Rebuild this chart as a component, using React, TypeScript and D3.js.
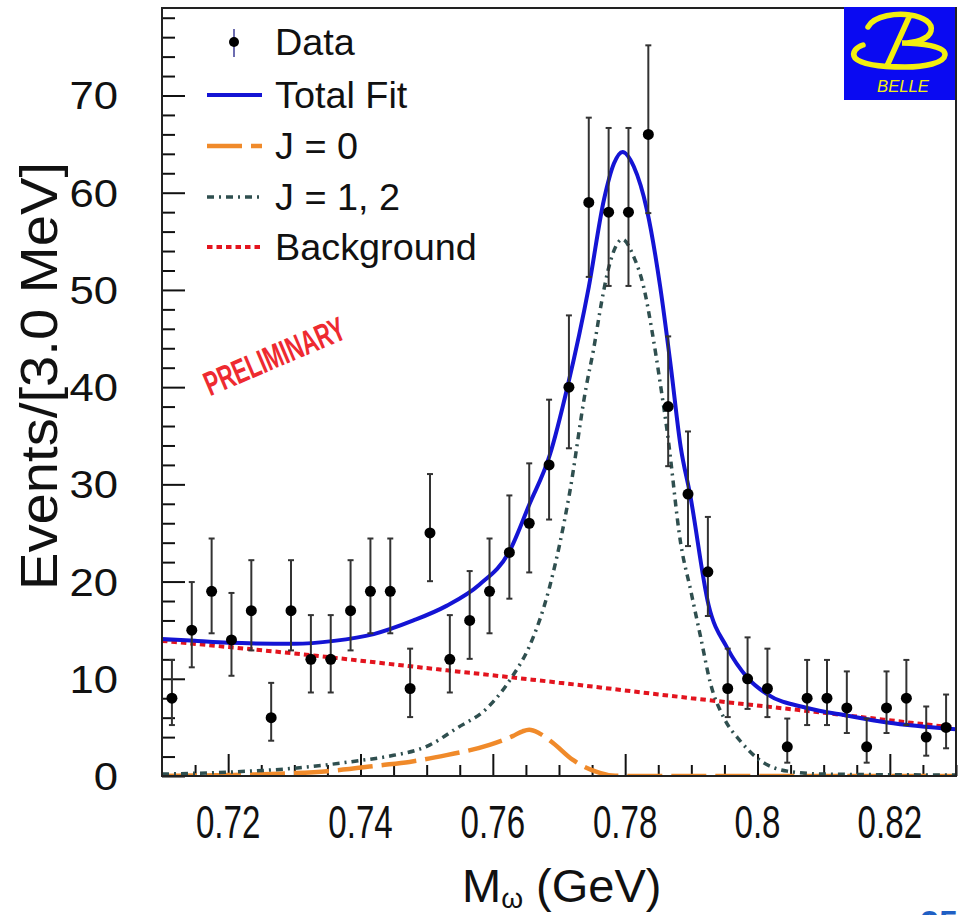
import * as d3 from "d3";
import { useEffect, useRef } from "react";

// omega candidate mass, bin centres of the 3 MeV bins (GeV)
const massBins = [
  0.7115, 0.7145, 0.7175, 0.7205, 0.7235, 0.7265, 0.7295, 0.7325, 0.7355, 0.7385,
  0.7415, 0.7445, 0.7475, 0.7505, 0.7535, 0.7565, 0.7595, 0.7625, 0.7655, 0.7685,
  0.7715, 0.7745, 0.7775, 0.7805, 0.7835, 0.7865, 0.7895, 0.7925, 0.7955, 0.7985,
  0.8015, 0.8045, 0.8075, 0.8105, 0.8135, 0.8165, 0.8195, 0.8225, 0.8255, 0.8285,
];
const counts = [
  8, 15, 19, 14, 17, 6, 17, 12, 12, 17, 19, 19, 9, 25, 12, 16, 19, 23, 26, 32,
  40, 59, 58, 58, 66, 38, 29, 21, 9, 10, 9, 3, 8, 8, 7, 3, 7, 8, 4, 5,
];
// poisson error bar ends
const errLow = [
  5.24, 11.18, 14.68, 10.31, 12.92, 3.63, 12.92, 8.59, 8.59, 12.92, 14.68, 14.68, 6.06, 20.04,
  8.59, 12.05, 14.68, 18.24, 20.94, 26.38, 33.71, 51.34, 50.41, 50.41, 57.9, 31.87, 23.65,
  16.46, 6.06, 6.9, 6.06, 1.37, 5.24, 5.24, 4.42, 1.37, 4.42, 5.24, 2.09, 2.85,
];
const errHigh = [
  11.94, 19.95, 24.43, 18.83, 22.2, 9.58, 22.2, 16.55, 16.55, 22.2, 24.43, 24.43, 13.1, 31.06,
  16.55, 21.08, 24.43, 28.86, 32.16, 38.71, 47.38, 67.72, 66.66, 66.66, 75.16, 45.22, 35.44,
  26.65, 13.1, 14.26, 13.1, 5.91, 11.94, 11.94, 10.76, 5.91, 10.76, 11.94, 7.15, 8.38,
];

// fit curves
const totalMass = [
  0.71, 0.715, 0.72, 0.73, 0.736, 0.742, 0.748, 0.753, 0.758, 0.7625, 0.7655, 0.7686, 0.7713,
  0.7745, 0.7768, 0.7783, 0.7796, 0.7813, 0.7833, 0.7853, 0.7869, 0.7884, 0.7898, 0.7926,
  0.7954, 0.7985, 0.8015, 0.8075, 0.8136, 0.8196, 0.83,
];
const totalFit = [
  14.1, 13.9, 13.7, 13.6, 13.9, 14.6, 16.0, 17.5, 19.7, 23.1, 27.9, 33.0, 40.1, 50.3, 59.3,
  63.0, 64.2, 62.7, 58.2, 50.3, 42.1, 33.8, 29.0, 17.6, 13.2, 10.1, 8.4, 7.0, 6.2, 5.5, 4.8,
];
const bkgMass = [0.71, 0.73, 0.75, 0.77, 0.79, 0.81, 0.83];
const bkgFit = [13.9, 12.6, 11.1, 9.6, 8.0, 6.5, 4.95];
const j0Mass = [
  0.71, 0.72, 0.73, 0.735, 0.743, 0.7474, 0.753, 0.7595, 0.763, 0.7645, 0.7655, 0.767, 0.7691,
  0.7721, 0.7756, 0.778, 0.78, 0.83,
];
const j0Fit = [0.0, 0.1, 0.3, 0.5, 1.1, 1.45, 2.15, 3.2, 4.1, 4.6, 4.75, 4.4, 3.4, 1.65, 0.45, 0.05, 0.0, 0.0];
const j12Mass = [
  0.71, 0.72, 0.73, 0.74, 0.744, 0.7505, 0.7545, 0.759, 0.763, 0.7655, 0.7686, 0.7716, 0.7741,
  0.7752, 0.7765, 0.7773, 0.7796, 0.7813, 0.7828, 0.7841, 0.7853, 0.7864, 0.7884, 0.7899,
  0.7914, 0.7929, 0.7949, 0.7974, 0.8005, 0.8045, 0.81, 0.83,
];
const j12Fit = [
  0.2, 0.4, 0.8, 1.6, 2.0, 3.2, 4.9, 6.9, 10.3, 13.3, 19.5, 29.1, 40.0, 43.8, 49.0, 51.7, 55.2,
  53.4, 50.3, 45.6, 40.4, 35.2, 23.9, 19.1, 14.3, 9.5, 6.0, 3.6, 1.55, 0.5, 0.2, 0.1,
];

const xTicks = [0.72, 0.74, 0.76, 0.78, 0.8, 0.82];
const yTicks = [0, 10, 20, 30, 40, 50, 60, 70];
const legendLabels = ["Data", "Total Fit", "J = 0", "J = 1, 2", "Background"];

const FONT = "'Liberation Sans', Arial, Helvetica, sans-serif";

const styles = {
  total: { color: "#1414d4", width: 4, dash: null as string | null },
  j0: { color: "#f08a2a", width: 4.5, dash: "35,9" },
  j12: { color: "#2f4f4f", width: 3.5, dash: "7,5,2,5" },
  bkg: { color: "#e3141e", width: 4, dash: "5.5,4" },
};

function App() {
  const ref = useRef<SVGSVGElement>(null);

  useEffect(() => {
    document.body.style.margin = "0";
    const svg = d3.select(ref.current);
    svg.selectAll("*").remove();

    const x = d3.scaleLinear().domain([0.71, 0.83]).range([162, 956]);
    const y = d3.scaleLinear().domain([0, 79]).range([776, 8]);

    svg.append("rect").attr("width", 964).attr("height", 915).attr("fill", "#fff");

    svg
      .append("defs")
      .append("clipPath")
      .attr("id", "frame-clip")
      .append("rect")
      .attr("x", 162)
      .attr("y", 8)
      .attr("width", 794)
      .attr("height", 768);

    // ticks (inside the frame)
    const minorX = d3.range(0.715, 0.8301, 0.005).filter((v) => !xTicks.some((t) => Math.abs(t - v) < 1e-6));
    const minorY = d3.range(2, 79, 2).filter((v) => v % 10 !== 0);

    const tickAxis = (axis: any, tr: string) => {
      const g = svg.append("g").attr("transform", tr).call(axis);
      g.select(".domain").remove();
      g.selectAll("line").attr("stroke", "#111").attr("stroke-width", 2);
    };
    tickAxis(d3.axisTop(x).tickValues(xTicks).tickSize(22).tickFormat(() => ""), "translate(0,776)");
    tickAxis(d3.axisTop(x).tickValues(minorX).tickSize(11).tickFormat(() => ""), "translate(0,776)");
    tickAxis(d3.axisRight(y).tickValues(yTicks).tickSize(23).tickFormat(() => ""), "translate(162,0)");
    tickAxis(d3.axisRight(y).tickValues(minorY).tickSize(13).tickFormat(() => ""), "translate(162,0)");

    // tick labels
    svg
      .append("g")
      .selectAll("text")
      .data(xTicks)
      .join("text")
      .attr("transform", (d) => `translate(${x(d)},838) scale(0.72,1)`)
      .attr("text-anchor", "middle")
      .attr("font-family", FONT)
      .attr("font-size", 46)
      .attr("fill", "#111")
      .text((d) => d3.format("~g")(d));

    svg
      .append("g")
      .selectAll("text")
      .data(yTicks)
      .join("text")
      .attr("transform", (d) => `translate(118,${y(d) + 14}) scale(1.12,1)`)
      .attr("text-anchor", "end")
      .attr("font-family", FONT)
      .attr("font-size", 39)
      .attr("fill", "#111")
      .text((d) => d);

    // axis titles
    svg
      .append("text")
      .attr("transform", "translate(57,376) rotate(-90)")
      .attr("text-anchor", "middle")
      .attr("font-family", FONT)
      .attr("font-size", 51)
      .attr("textLength", 428)
      .attr("lengthAdjust", "spacingAndGlyphs")
      .attr("fill", "#111")
      .text("Events/[3.0 MeV]");

    const xt = svg
      .append("text")
      .attr("x", 462)
      .attr("y", 902)
      .attr("font-family", FONT)
      .attr("font-size", 47)
      .attr("fill", "#111");
    xt.append("tspan").text("M");
    xt.append("tspan").attr("font-size", 28).attr("dy", 6).text("ω");
    xt.append("tspan").attr("dy", -6).text(" (GeV)");

    // fit components
    const plot = svg.append("g").attr("clip-path", "url(#frame-clip)");
    const curve = (xs: number[], ys: number[], s: { color: string; width: number; dash: string | null }) => {
      const line = d3
        .line<[number, number]>()
        .x((d) => x(d[0]))
        .y((d) => y(d[1]))
        .curve(d3.curveMonotoneX);
      plot
        .append("path")
        .datum(d3.zip(xs, ys) as [number, number][])
        .attr("fill", "none")
        .attr("stroke", s.color)
        .attr("stroke-width", s.width)
        .attr("stroke-dasharray", s.dash)
        .attr("d", line);
    };
    curve(bkgMass, bkgFit, styles.bkg);
    curve(j0Mass, j0Fit, styles.j0);
    curve(j12Mass, j12Fit, styles.j12);
    curve(totalMass, totalFit, styles.total);

    // data with error bars
    const pts = plot
      .append("g")
      .selectAll("g")
      .data(counts.map((c, i) => ({ m: massBins[i], c, lo: errLow[i], hi: errHigh[i] })))
      .join("g");
    pts
      .append("line")
      .attr("x1", (d) => x(d.m))
      .attr("x2", (d) => x(d.m))
      .attr("y1", (d) => y(d.lo))
      .attr("y2", (d) => y(d.hi))
      .attr("stroke", "#333")
      .attr("stroke-width", 2);
    for (const key of ["lo", "hi"] as const) {
      pts
        .append("line")
        .attr("x1", (d) => x(d.m) - 3)
        .attr("x2", (d) => x(d.m) + 3)
        .attr("y1", (d) => y(d[key]))
        .attr("y2", (d) => y(d[key]))
        .attr("stroke", "#333")
        .attr("stroke-width", 2);
    }
    pts
      .append("circle")
      .attr("cx", (d) => x(d.m))
      .attr("cy", (d) => y(d.c))
      .attr("r", 5.5)
      .attr("fill", "#000");

    // frame
    svg
      .append("rect")
      .attr("x", 162)
      .attr("y", 8)
      .attr("width", 794)
      .attr("height", 768)
      .attr("fill", "none")
      .attr("stroke", "#222")
      .attr("stroke-width", 2);

    // legend
    const rows = [42, 95, 146, 197, 247];
    const leg = svg.append("g");
    leg
      .append("line")
      .attr("x1", 234)
      .attr("x2", 234)
      .attr("y1", 29)
      .attr("y2", 57)
      .attr("stroke", "#6d6db0")
      .attr("stroke-width", 2);
    leg.append("circle").attr("cx", 234).attr("cy", 42).attr("r", 5).attr("fill", "#000");
    [styles.total, styles.j0, styles.j12, styles.bkg].forEach((s, i) => {
      leg
        .append("line")
        .attr("x1", 207)
        .attr("x2", 262)
        .attr("y1", rows[i + 1])
        .attr("y2", rows[i + 1])
        .attr("stroke", s.color)
        .attr("stroke-width", s.width)
        .attr("stroke-dasharray", s.dash);
    });
    leg
      .selectAll("text")
      .data(legendLabels)
      .join("text")
      .attr("transform", (d, i) => `translate(275,${rows[i] + 13}) scale(1.05,1)`)
      .attr("font-family", FONT)
      .attr("font-size", 36)
      .attr("fill", "#111")
      .text((d) => d);

    // preliminary stamp
    svg
      .append("text")
      .attr("transform", "translate(279,367) rotate(-23)")
      .attr("text-anchor", "middle")
      .attr("font-family", FONT)
      .attr("font-weight", "bold")
      .attr("font-size", 34)
      .attr("textLength", 150)
      .attr("lengthAdjust", "spacingAndGlyphs")
      .attr("fill", "#ee2a30")
      .text("PRELIMINARY");

    // Belle logo
    const logo = svg.append("g");
    logo.append("rect").attr("x", 844).attr("y", 7).attr("width", 111).attr("height", 93).attr("fill", "#0a0af2");
    logo
      .append("path")
      .attr(
        "d",
        "M868,27 C874,15 898,13 910,15 C924,17 933,23 931,31 C929,39 915,43 902,43 " +
          "C920,43 946,46 945,55 C944,63 925,67 905,67 C885,67 862,65 855,58 C851,52 857,47 863,45 " +
          "M910,15 L887,66"
      )
      .attr("fill", "none")
      .attr("stroke", "#f2ee10")
      .attr("stroke-width", 5.5)
      .attr("stroke-linecap", "round");
    logo
      .append("text")
      .attr("x", 903)
      .attr("y", 92)
      .attr("text-anchor", "middle")
      .attr("font-family", FONT)
      .attr("font-style", "italic")
      .attr("font-size", 16)
      .attr("textLength", 52)
      .attr("lengthAdjust", "spacingAndGlyphs")
      .attr("fill", "#f2ee10")
      .text("BELLE");

    // slide page number, cut at the bottom edge as on the slide
    svg
      .append("text")
      .attr("x", 920)
      .attr("y", 934)
      .attr("font-family", FONT)
      .attr("font-weight", "bold")
      .attr("font-size", 34)
      .attr("fill", "#1f5fc4")
      .text("25");
  }, []);

  return <svg ref={ref} width={964} height={915} style={{ display: "block" }} />;
}

export default App;
